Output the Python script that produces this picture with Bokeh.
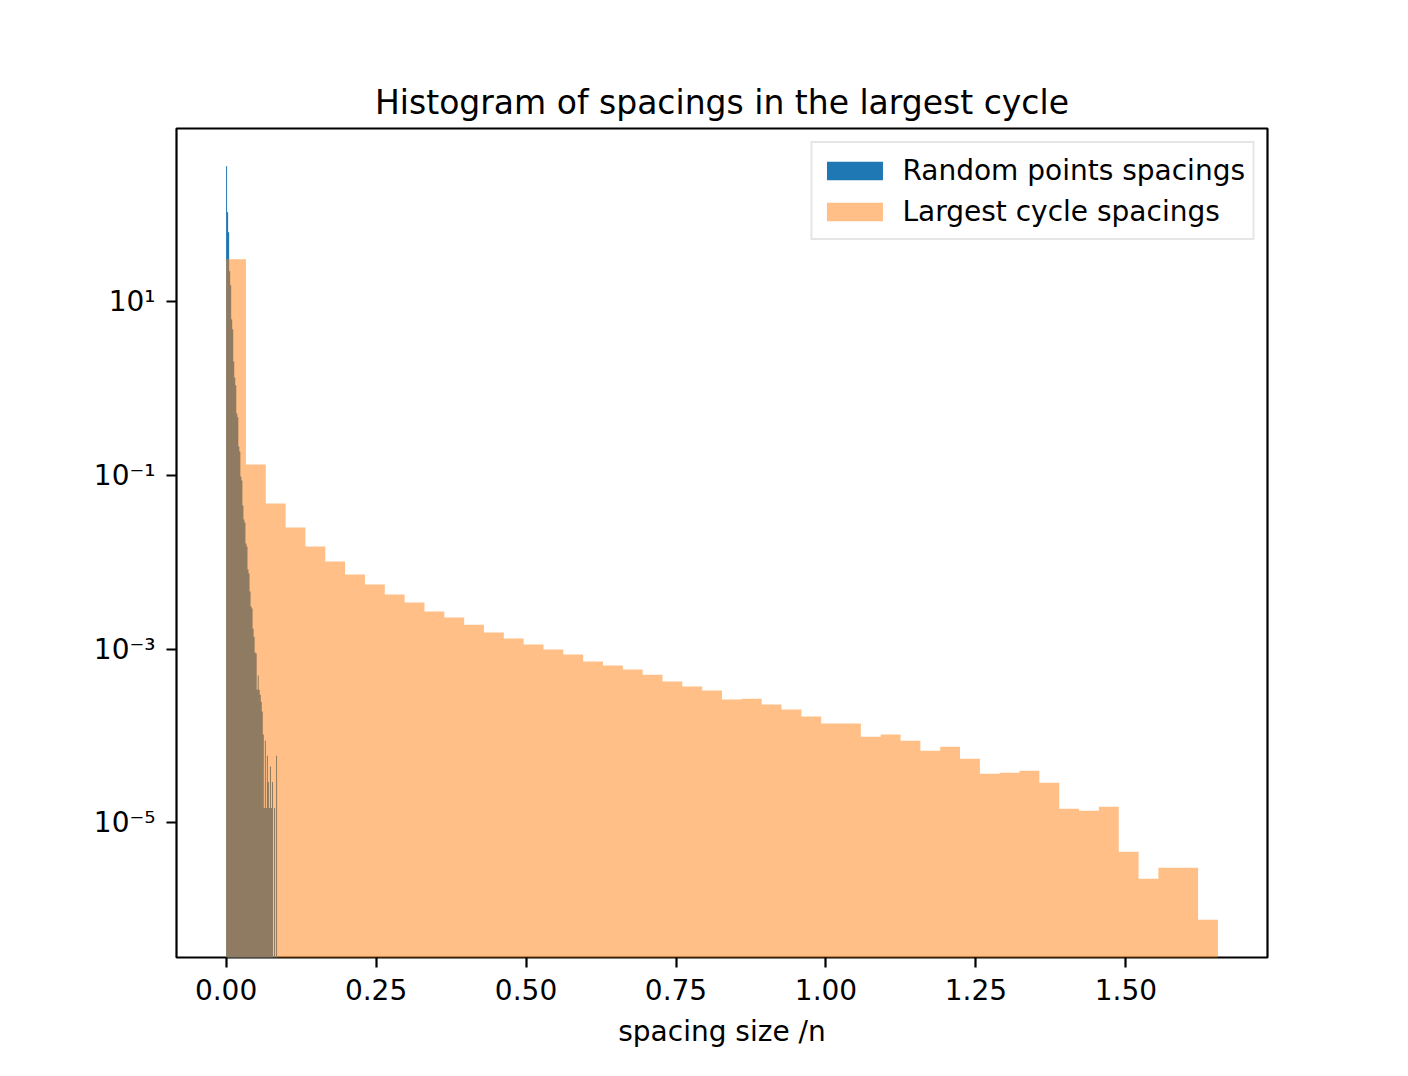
import numpy as np
from bokeh.plotting import figure
from bokeh.models import Range1d, FixedTicker, Legend, LegendItem
from bokeh.embed import file_html
from bokeh.resources import INLINE

# ---------------- data ----------------
title_text = "Histogram of spacings in the largest cycle"
xlabel_text = "spacing size /n"
series_names = ["Random points spacings", "Largest cycle spacings"]

# histogram of random points spacings (density), 50 bins on [random_lo, random_hi]
random_lo, random_hi = 0.0, 0.085
random_density = [
    362, 107, 62.9, 22.3, 15.4, 6.25, 4.80, 2.05, 1.34, 1.09,
    0.516, 0.465, 0.215, 0.188, 0.0971, 0.0873, 0.0450, 0.0310, 0.0287, 0.0164,
    0.0152, 0.00824, 0.00741, 0.00459, 0.00309, 0.00293, 0.00172, 0.00139, 0.000912, 0.000887,
    0.000341, 0.000495, 0.000341, 0.000299, 0.000248, 0.000191, 0.000104, 0.0000148, 0.0000888, 0.0000148,
    0.0000592, 0.0000296, 0.0000148, 0.0000444, 0.0000148, 0.0000296, 0.0, 0.0000148, 0.0, 0.0000592,
]

# histogram of largest cycle spacings (density), 50 bins on [cycle_lo, cycle_hi]
cycle_lo, cycle_hi = 0.0, 1.6533
cycle_density = [
    30.7, 0.1336, 0.0474, 0.0251, 0.01517, 0.01019, 0.00721, 0.00553, 0.00425, 0.00344,
    0.00270, 0.00231, 0.00191, 0.00155, 0.00132, 0.00113, 0.000986, 0.000865, 0.000718, 0.000646,
    0.000581, 0.000508, 0.000423, 0.000370, 0.000333, 0.000262, 0.000269, 0.000230, 0.000201, 0.000167,
    0.000139, 0.000139, 0.0000982, 0.000104, 0.0000883, 0.0000678, 0.0000753, 0.0000547, 0.0000368, 0.0000378,
    0.0000398, 0.0000290, 0.0000145, 0.0000138, 0.0000153, 0.00000465, 0.00000227, 0.00000304, 0.00000304, 0.000000765,
]

x_ticks = [0.0, 0.25, 0.5, 0.75, 1.0, 1.25, 1.5]
x_tick_labels = ["0.00", "0.25", "0.50", "0.75", "1.00", "1.25", "1.50"]
y_ticks = [1e1, 1e-1, 1e-3, 1e-5]
y_tick_labels = ["10\u00b9", "10\u207b\u00b9", "10\u207b\u00b3", "10\u207b\u2075"]

colors = ["#1f77b4", "#ff7f0e"]
FONT = "DejaVu Sans"

# ---------------- ranges (matplotlib-like 5% margins) ----------------
xmin_d, xmax_d = min(random_lo, cycle_lo), max(random_hi, cycle_hi)
xpad = 0.05 * (xmax_d - xmin_d)
all_pos = [v for v in random_density + cycle_density if v > 0]
lmin, lmax = np.log10(min(all_pos)), np.log10(max(all_pos))
lpad = 0.05 * (lmax - lmin)
y_lo, y_hi = 10 ** (lmin - lpad), 10 ** (lmax + lpad)
base = y_lo / 10.0


def step_outline(lo, hi, dens):
    """Outline of a histogram (one polygon, so no seams between bars)."""
    edges = np.linspace(lo, hi, len(dens) + 1)
    xs, ys = [edges[0]], [base]
    for i, d in enumerate(dens):
        h = d if d > 0 else base
        xs += [edges[i], edges[i + 1]]
        ys += [h, h]
    xs.append(edges[-1])
    ys.append(base)
    return xs, ys


rx, ry = step_outline(random_lo, random_hi, random_density)
cx, cy = step_outline(cycle_lo, cycle_hi, cycle_density)

p = figure(
    frame_width=1091, frame_height=829,
    min_border_left=176, min_border_top=128, min_border_right=141, min_border_bottom=119,
    y_axis_type="log",
    x_range=Range1d(xmin_d - xpad, xmax_d + xpad),
    y_range=Range1d(y_lo, y_hi),
    output_backend="svg", toolbar_location=None,
    title=title_text,
)

r_blue = p.patch(rx, ry, fill_color=colors[0], fill_alpha=1.0, line_color=None)
r_orange = p.patch(cx, cy, fill_color=colors[1], fill_alpha=0.5, line_color=None)

# title
p.title.align = "center"
p.title.text_font = FONT
p.title.text_font_size = "33px"
p.title.text_font_style = "normal"
p.title.text_color = "black"
p.title.standoff = 14

# frame / grid
p.xgrid.grid_line_color = None
p.ygrid.grid_line_color = None
p.outline_line_color = "black"
p.outline_line_width = 2.2
p.background_fill_color = "white"
p.border_fill_color = "white"

# axes
for ax in (p.xaxis[0], p.yaxis[0]):
    ax.axis_line_color = None
    ax.major_tick_line_color = "black"
    ax.major_tick_line_width = 2.2
    ax.major_tick_out = 10
    ax.major_tick_in = 0
    ax.minor_tick_line_color = None
    ax.major_label_text_font = FONT
    ax.major_label_text_font_size = "28px"
    ax.major_label_text_color = "black"

p.xaxis.ticker = FixedTicker(ticks=x_ticks, minor_ticks=[])
p.xaxis.major_label_overrides = {t: s for t, s in zip(x_ticks, x_tick_labels)}
p.xaxis.major_label_standoff = 11
p.xaxis.axis_label = xlabel_text
p.xaxis.axis_label_text_font = FONT
p.xaxis.axis_label_text_font_size = "28px"
p.xaxis.axis_label_text_font_style = "normal"
p.xaxis.axis_label_text_color = "black"
p.xaxis.axis_label_standoff = 12

p.yaxis.ticker = FixedTicker(ticks=y_ticks, minor_ticks=[])
p.yaxis.major_label_overrides = {t: s for t, s in zip(y_ticks, y_tick_labels)}
p.yaxis.major_label_standoff = 11

# legend
legend = Legend(items=[LegendItem(label=series_names[0], renderers=[r_blue]),
                       LegendItem(label=series_names[1], renderers=[r_orange])],
                location="top_right")
legend.label_text_font = FONT
legend.label_text_font_size = "28px"
legend.label_text_color = "black"
legend.glyph_width = 70
legend.glyph_height = 23
legend.label_height = 40
legend.label_standoff = 13
legend.padding = 7
legend.spacing = 1
legend.margin = 13
legend.border_line_color = "#cccccc"
legend.border_line_width = 2.8
legend.background_fill_alpha = 0.8
p.add_layout(legend)

open("out.html", "w").write(file_html(p, INLINE))
